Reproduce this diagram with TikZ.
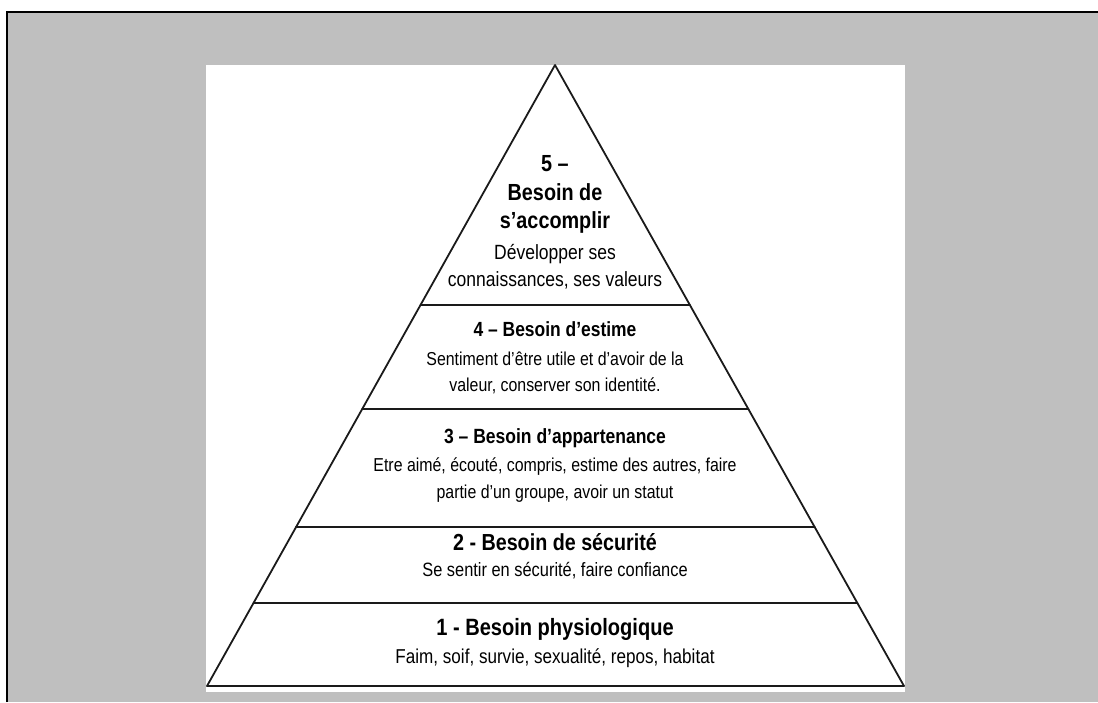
\documentclass[tikz,border=0pt]{standalone}
\usepackage{fontspec}
\setmainfont{Liberation Sans}[FakeStretch=0.85]
\usetikzlibrary{calc}
\definecolor{bggray}{HTML}{BFBFBF}
\definecolor{linecol}{HTML}{1A1A1A}
\tikzset{
  pyrline/.style={draw=linecol, line width=1.8pt, line cap=round, line join=round},
  frameline/.style={draw=black, line width=2.2pt},
  ttl/.style={font=\fontsize{#1}{24}\selectfont\bfseries, inner sep=0pt, text height=0.72em, text depth=0pt, anchor=center},
  ttl/.default=23.5,
  desc/.style={font=\fontsize{#1}{20}\selectfont, inner sep=0pt, text height=0.72em, text depth=0pt, anchor=center},
  desc/.default=19
}
\begin{document}
\begin{tikzpicture}[x=1pt,y=-1pt]
\useasboundingbox (0,0) rectangle (1098,702);
% background frame
\fill[bggray] (8,13) rectangle (1098,702);
\draw[frameline] (7,702) -- (7,12) -- (1098,12);
% white panel
\fill[white] (206,65) rectangle (905,692);
% pyramid
\coordinate (A) at (555,65);
\coordinate (L) at (207,686);
\coordinate (R) at (904,686);
\draw[pyrline] (A) -- (L) -- (R) -- cycle;
\foreach \t/\n in {0.3865/a, 0.5540/b, 0.7440/c, 0.8663/d}{
  \draw[pyrline] ($(A)!\t!(L)$) coordinate (l\n) -- ($(A)!\t!(R)$) coordinate (r\n);
}
% tier 5
\node[ttl=23.3] (t5a) at (555,168) {5 –};
\node[ttl=23.3] (t5b) at (555,197) {Besoin de};
\node[ttl=23.3] (t5c) at (555,225) {s’accomplir};
\node[desc=20.6] (t5d) at (555,256) {Développer ses};
\node[desc=20.6] (t5e) at (555,283) {connaissances, ses valeurs};
% tier 4
\node[ttl=20.5] (t4a) at (555,333) {4 – Besoin d’estime};
\node[desc=18.7] (t4b) at (555,362) {Sentiment d’être utile et d’avoir de la};
\node[desc=18.7] (t4c) at (555,388) {valeur, conserver son identité.};
% tier 3
\node[ttl=20.6] (t3a) at (555,440) {3 – Besoin d’appartenance};
\node[desc=18.7] (t3b) at (555,468) {Etre aimé, écouté, compris, estime des autres, faire};
\node[desc=18.7] (t3c) at (555,495) {partie d’un groupe, avoir un statut};
% tier 2
\node[ttl=23.2] (t2a) at (555,547) {2 - Besoin de sécurité};
\node[desc=19.3] (t2b) at (555,573) {Se sentir en sécurité, faire confiance};
% tier 1
\node[ttl=23.6] (t1a) at (555,632) {1 - Besoin physiologique};
\node[desc=20.1] (t1b) at (555,660) {Faim, soif, survie, sexualité, repos, habitat};
\end{tikzpicture}
\end{document}
